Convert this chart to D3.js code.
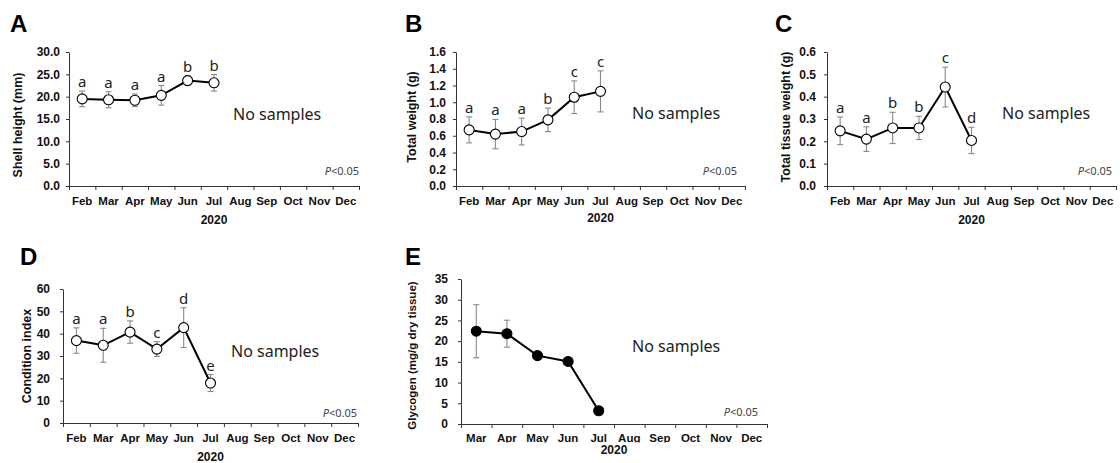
<!DOCTYPE html>
<html>
<head>
<meta charset="utf-8">
<style>
    body { margin: 0; background: #fff; }
    svg { display: block; }
    .axis .domain { stroke: #333; }
    .axis .tick line { stroke: #333; }
    .axis .tick text { font-family: "Liberation Sans", Arial, sans-serif; font-weight: bold; font-size: 12px; fill: #111; }
    .month { font-family: "Liberation Sans", Arial, sans-serif; font-weight: bold; font-size: 11.5px; fill: #111; }
    .xtitle { font-family: "Liberation Sans", Arial, sans-serif; font-weight: bold; font-size: 12px; fill: #111; }
    .ytitle { font-family: "Liberation Sans", Arial, sans-serif; font-weight: bold; fill: #111; }
    .panel-letter { font-family: "Liberation Sans", Arial, sans-serif; font-weight: bold; font-size: 24px; fill: #000; }
    .sig { font-family: "Noto Sans", "Open Sans", sans-serif; font-size: 15px; fill: #222; }
    .nosamp { font-family: "Noto Sans", "Open Sans", sans-serif; font-size: 16px; fill: #222; }
    .pval { font-family: "Noto Sans", "Open Sans", sans-serif; font-size: 11px; fill: #444; }
</style>
</head>
<body>
<svg width="1120" height="463"></svg>

<script src="https://d3js.org/d3.v7.min.js"></script>
<script>
    // months on the x axis
    const months = ["Feb", "Mar", "Apr", "May", "Jun", "Jul", "Aug", "Sep", "Oct", "Nov", "Dec"]
    const monthsE = ["Mar", "Apr", "May", "Jun", "Jul", "Aug", "Sep", "Oct", "Nov", "Dec"]

    // A: shell height (mm)
    const shellHeight = [19.5, 19.3, 19.2, 20.3, 23.6, 23.1]
    const shellHeightSd = [1.75, 1.8, 1.4, 2.2, 1.1, 1.85]
    const shellHeightSig = ["a", "a", "a", "a", "b", "b"]
    const shellTicks = [0, 5, 10, 15, 20, 25, 30]

    // B: total weight (g)
    const totalWeight = [0.67, 0.62, 0.65, 0.79, 1.06, 1.13]
    const totalWeightSd = [0.155, 0.175, 0.16, 0.14, 0.195, 0.245]
    const totalWeightSig = ["a", "a", "a", "b", "c", "c"]
    const weightTicks = [0, 0.2, 0.4, 0.6, 0.8, 1.0, 1.2, 1.4, 1.6]

    // C: total tissue weight (g)
    const tissueWeight = [0.247, 0.21, 0.26, 0.26, 0.443, 0.204]
    const tissueWeightSd = [0.062, 0.055, 0.07, 0.052, 0.089, 0.059]
    const tissueWeightSig = ["a", "a", "b", "b", "c", "d"]
    const tissueTicks = [0, 0.1, 0.2, 0.3, 0.4, 0.5, 0.6]

    // D: condition index
    const conditionIndex = [36.9, 34.8, 40.7, 33.1, 42.7, 17.9]
    const conditionIndexSd = [5.7, 7.6, 5.0, 3.3, 8.9, 3.8]
    const conditionIndexSig = ["a", "a", "b", "c", "d", "e"]
    const conditionTicks = [0, 10, 20, 30, 40, 50, 60]

    // E: glycogen (mg/g dry tissue)
    const glycogen = [22.4, 21.8, 16.5, 15.1, 3.2]
    const glycogenSd = [6.4, 3.25, 0, 0, 0]
    const glycogenTicks = [0, 5, 10, 15, 20, 25, 30, 35]

    let svg = d3.select("svg")

    const panels = [
        { letter: "A", title: "Shell height (mm)", cats: months, vals: shellHeight, sd: shellHeightSd, sig: shellHeightSig,
          ticks: shellTicks, fmt: ".1f", filled: false, pad: 6, titleSize: 12.5,
          box: { l: 69, t: 52, r: 359, b: 186 }, letterPos: [10, 32], titleX: 22, titleDy: 6,
          noSamp: [164, 68], pPos: [0, -11], monthDy: 19, yearDy: 38 },
        { letter: "B", title: "Total weight (g)", cats: months, vals: totalWeight, sd: totalWeightSd, sig: totalWeightSig,
          ticks: weightTicks, fmt: ".1f", filled: false, pad: 7, titleSize: 12.5,
          box: { l: 456, t: 52, r: 745, b: 186 }, letterPos: [405, 32], titleX: 415.5, titleDy: -2,
          noSamp: [176, 67], pPos: [-8, -11], monthDy: 19, yearDy: 36 },
        { letter: "C", title: "Total tissue weight (g)", cats: months, vals: tissueWeight, sd: tissueWeightSd, sig: tissueWeightSig,
          ticks: tissueTicks, fmt: ".1f", filled: false, pad: 8, titleSize: 12.5,
          box: { l: 827, t: 52, r: 1116, b: 186 }, letterPos: [775, 32], titleX: 789.5, titleDy: -2,
          noSamp: [175, 67], pPos: [-4, -11], monthDy: 19, yearDy: 38 },
        { letter: "D", title: "Condition index", cats: months, vals: conditionIndex, sd: conditionIndexSd, sig: conditionIndexSig,
          ticks: conditionTicks, fmt: "d", filled: false, pad: 10, titleSize: 12.5,
          box: { l: 63, t: 289, r: 358, b: 423 }, letterPos: [20, 265], titleX: 30.5, titleDy: 0,
          noSamp: [168, 68], pPos: [-1, -6], monthDy: 19, yearDy: 38 },
        { letter: "E", title: "Glycogen (mg/g dry tissue)", cats: monthsE, vals: glycogen, sd: glycogenSd, sig: null,
          ticks: glycogenTicks, fmt: "d", filled: true, pad: 10, titleSize: 11.5,
          box: { l: 461, t: 279, r: 767, b: 424 }, letterPos: [405, 265], titleX: 416, titleDy: 4,
          noSamp: [171, 73], pPos: [-9, -8], monthDy: 18, yearDy: 30, clipMonths: true }
    ]

    panels.forEach(function (p, pi) {
        let g = svg.append("g")
        let box = p.box

        let x = d3.scaleBand()
            .domain(p.cats)
            .range([box.l, box.r])
            .padding(0)

        let y = d3.scaleLinear()
            .domain([p.ticks[0], p.ticks[p.ticks.length - 1]])
            .range([box.b, box.t])

        // y axis
        let yAxis = d3.axisLeft(y)
            .tickValues(p.ticks)
            .tickSize(3)
            .tickPadding(p.pad)
            .tickSizeOuter(0)
            .tickFormat(d3.format(p.fmt))

        g.append("g")
            .attr("class", "axis y")
            .attr("transform", `translate(${box.l},0)`)
            .call(yAxis)

        // x axis line with ticks at band edges
        let edges = p.cats.map(d => x(d)).concat([box.r])
        g.append("line")
            .attr("x1", box.l).attr("x2", box.r)
            .attr("y1", box.b + 0.5).attr("y2", box.b + 0.5)
            .style("stroke", "#333")
        g.append("g")
            .selectAll("line")
            .data(edges)
            .join("line")
            .attr("x1", d => d + 0.5).attr("x2", d => d + 0.5)
            .attr("y1", box.b).attr("y2", box.b + 4)
            .style("stroke", "#333")

        // month labels (E's are cut at the baseline like in the source figure)
        let monthG = g.append("g")
        if (p.clipMonths) {
            svg.append("clipPath").attr("id", "clip" + pi)
                .append("rect")
                .attr("x", box.l - 20).attr("y", box.b)
                .attr("width", box.r - box.l + 40).attr("height", p.monthDy + 0.5)
            monthG.attr("clip-path", `url(#clip${pi})`)
        }
        monthG.selectAll("text")
            .data(p.cats)
            .join("text")
            .attr("class", "month")
            .attr("x", d => x(d) + x.bandwidth() / 2)
            .attr("y", box.b + p.monthDy)
            .attr("text-anchor", "middle")
            .text(d => d)

        g.append("text")
            .attr("class", "xtitle")
            .attr("x", (box.l + box.r) / 2)
            .attr("y", box.b + p.yearDy)
            .attr("text-anchor", "middle")
            .text("2020")

        // y title
        g.append("text")
            .attr("class", "ytitle")
            .attr("transform", `translate(${p.titleX},${(box.t + box.b) / 2 + p.titleDy}) rotate(-90)`)
            .attr("text-anchor", "middle")
            .style("font-size", p.titleSize + "px")
            .text(p.title)

        // panel letter
        g.append("text")
            .attr("class", "panel-letter")
            .attr("x", p.letterPos[0])
            .attr("y", p.letterPos[1])
            .text(p.letter)

        let data = p.vals.map((v, i) => ({ cat: p.cats[i], v: v, sd: p.sd[i], sig: p.sig ? p.sig[i] : null }))
        let cx = d => x(d.cat) + x.bandwidth() / 2

        // error bars
        let eb = g.append("g")
            .selectAll("g")
            .data(data.filter(d => d.sd > 0))
            .join("g")
            .style("stroke", "#8a8a8a")
            .style("stroke-width", 1.1)
        eb.append("line")
            .attr("x1", cx).attr("x2", cx)
            .attr("y1", d => y(d.v - d.sd)).attr("y2", d => y(d.v + d.sd))
        eb.append("line")
            .attr("x1", d => cx(d) - 3).attr("x2", d => cx(d) + 3)
            .attr("y1", d => y(d.v + d.sd)).attr("y2", d => y(d.v + d.sd))
        eb.append("line")
            .attr("x1", d => cx(d) - 3).attr("x2", d => cx(d) + 3)
            .attr("y1", d => y(d.v - d.sd)).attr("y2", d => y(d.v - d.sd))

        // line
        let line = d3.line()
            .x(cx)
            .y(d => y(d.v))
        g.append("path")
            .attr("d", line(data))
            .style("fill", "none")
            .style("stroke", "#000")
            .style("stroke-width", 2)

        // points
        g.append("g")
            .selectAll("circle")
            .data(data)
            .join("circle")
            .attr("cx", cx)
            .attr("cy", d => y(d.v))
            .attr("r", 5)
            .style("fill", p.filled ? "#000" : "#fff")
            .style("stroke", "#000")
            .style("stroke-width", 1.1)

        // significance letters
        if (p.sig) {
            g.append("g")
                .selectAll("text")
                .data(data)
                .join("text")
                .attr("class", "sig")
                .attr("x", cx)
                .attr("y", d => y(d.v + d.sd) - 4)
                .attr("text-anchor", "middle")
                .text(d => d.sig)
        }

        g.append("text")
            .attr("class", "nosamp")
            .attr("x", box.l + p.noSamp[0])
            .attr("y", box.t + p.noSamp[1])
            .text("No samples")

        let pt = g.append("text")
            .attr("class", "pval")
            .attr("x", box.r + p.pPos[0])
            .attr("y", box.b + p.pPos[1])
            .attr("text-anchor", "end")
        pt.append("tspan").style("font-style", "italic").text("P")
        pt.append("tspan").text("<0.05")
    })
</script>
</body>
</html>
